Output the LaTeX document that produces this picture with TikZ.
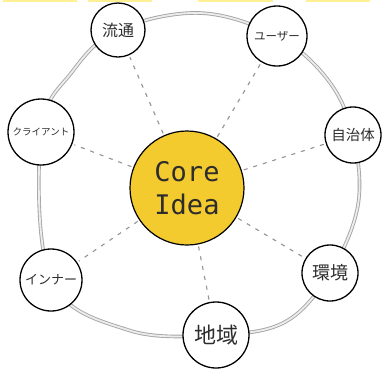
\documentclass[tikz,border=0pt]{standalone}
\usepackage{fontspec}
\newfontfamily\jpfont{Noto Sans CJK JP}
\newfontfamily\monofont{DejaVu Sans Mono}
\definecolor{coreyellow}{RGB}{244,203,46}
\definecolor{stripyellow}{RGB}{255,240,150}
\definecolor{inkgray}{RGB}{45,45,45}
\tikzset{
  leaf/.style={circle, draw=black, line width=1.3pt, fill=white, inner sep=0pt, text=inkgray, font=\jpfont},
  core/.style={circle, draw=black, line width=1.2pt, fill=coreyellow, inner sep=0pt, minimum size=114pt, text=inkgray, align=center, font=\monofont\fontsize{27}{33}\selectfont},
  ring/.style={draw=gray!70, line width=0.9pt, double=gray!15, double distance=1.8pt},
  spoke/.style={draw=gray!85, line width=1.1pt, dash pattern=on 4pt off 6pt, shorten <=2pt, shorten >=2pt},
  strip/.style={fill=stripyellow, draw=none}
}
\begin{document}
\begin{tikzpicture}[x=1pt,y=-1pt]
\useasboundingbox (0,0) rectangle (383,373);
\fill[white] (0,0) rectangle (383,373);
% top strips
\fill[strip] (3,0) rectangle (77,1.5);
\fill[strip] (88,0) rectangle (152,1.5);
\fill[strip] (198,0) rectangle (273,1.5);
\fill[strip] (306,0) rectangle (370,1.5);
% ring
\draw[ring] plot[smooth cycle, tension=0.6] coordinates {
  (118,30) (200,13) (277,36) (328,80) (353,135) (358,205) (330,273)
  (285,322) (216,335) (128,330) (51,280) (41,132) (72,72)};
% nodes
\node[core] (core) at (187,188) {Core\\Idea};
\node[leaf, minimum size=54pt, font=\jpfont\fontsize{16}{16}\selectfont] (ryutsu) at (118,30) {流通};
\node[leaf, minimum size=60pt, font=\jpfont\fontsize{11.5}{12}\selectfont] (user) at (277,36) {ユーザー};
\node[leaf, minimum size=56pt, font=\jpfont\fontsize{14.5}{15}\selectfont] (jichi) at (353,135) {自治体};
\node[leaf, minimum size=56pt, font=\jpfont\fontsize{18}{18}\selectfont] (kankyo) at (330,273) {環境};
\node[leaf, minimum size=66pt, font=\jpfont\fontsize{22}{22}\selectfont] (chiiki) at (216,335) {地域};
\node[leaf, minimum size=62pt, font=\jpfont\fontsize{13}{13}\selectfont] (inner) at (51,280) {インナー};
\node[leaf, minimum size=66pt, font=\jpfont\fontsize{9.5}{10}\selectfont] (client) at (41,132) {クライアント};
% spokes
\foreach \n in {ryutsu,user,jichi,kankyo,chiiki,inner,client}
  \draw[spoke] (core) -- (\n);
\end{tikzpicture}
\end{document}
